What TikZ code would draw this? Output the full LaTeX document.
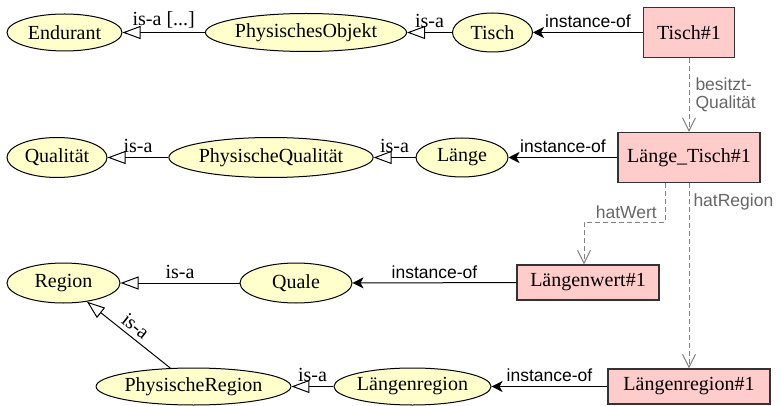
\documentclass[tikz,border=0pt]{standalone}
\usepackage{fontspec}
\setmainfont{Liberation Serif}
\newfontfamily\lblfont{Liberation Sans}
\usetikzlibrary{arrows.meta, shapes.geometric}
\definecolor{clsfill}{HTML}{FFFFCC}
\definecolor{indfill}{HTML}{FFCCCC}
\definecolor{relgray}{HTML}{808080}
\definecolor{rellblgray}{HTML}{666666}
\tikzset{
  cls/.style={ellipse, draw, line width=1pt, fill=clsfill, inner sep=0pt, font=\fontsize{20}{22}\selectfont},
  ind/.style={rectangle, draw, line width=1.2pt, draw=black!80, fill=indfill, inner sep=0pt, font=\fontsize{20}{22}\selectfont},
  isa/.style={draw, line width=1pt, -{Triangle[open, length=18pt, width=13pt]}},
  inst/.style={draw, line width=1pt, -{Stealth[length=11pt, width=11pt, inset=3pt]}},
  rel/.style={draw=relgray, line width=1pt, dash pattern=on 5pt off 3pt, -{Straight Barb[length=13pt, width=13pt]}},
  isalbl/.style={font=\fontsize{20}{22}\selectfont, inner sep=1pt},
  instlbl/.style={font=\lblfont\fontsize{17.5}{19}\selectfont, inner sep=1pt},
  rellbl/.style={font=\lblfont\fontsize{17.5}{18}\selectfont, text=rellblgray, inner sep=2pt}
}
\begin{document}
\begin{tikzpicture}[x=1pt, y=-1pt]
\useasboundingbox (0,0) rectangle (781,406);

% Row 1: Endurant / PhysischesObjekt / Tisch
\node[cls, minimum width=115, minimum height=37] (endurant) at (64.5,32.5) {Endurant};
\node[cls, minimum width=186, minimum height=38] (physobj) at (306,32.5) {PhysischesObjekt};
\node[cls, minimum width=80, minimum height=39] (tisch) at (492.5,32.5) {Tisch};
\node[ind, minimum width=91, minimum height=50] (tisch1) at (689,32.5) {Tisch\#1};

% Row 2: Qualität / PhysischeQualität / Länge
\node[cls, minimum width=100, minimum height=40] (qual) at (57,157.5) {Qualität};
\node[cls, minimum width=192, minimum height=40] (physqual) at (271,157.5) {PhysischeQualität};
\node[cls, minimum width=92, minimum height=39] (laenge) at (462,157.5) {Länge};
\node[ind, minimum width=142, minimum height=50] (laengetisch) at (689,157.5) {Länge\_Tisch\#1};

% Row 3: Region / Quale
\node[cls, minimum width=113, minimum height=40] (region) at (63.5,283) {Region};
\node[cls, minimum width=112, minimum height=40] (quale) at (296,283) {Quale};
\node[ind, minimum width=142, minimum height=35] (lwert) at (588,282.5) {Längenwert\#1};

% Row 4: PhysischeRegion / Längenregion
\node[cls, minimum width=165, minimum height=37] (physreg) at (193.5,386.5) {PhysischeRegion};
\node[cls, minimum width=151, minimum height=37] (lregion) at (412.5,386.5) {Längenregion};
\node[ind, minimum width=162, minimum height=35] (lregion1) at (689,386.5) {Längenregion\#1};

% is-a edges
\draw[isa] (physobj) -- node[isalbl, above=3pt] {is-a [...]} (endurant);
\draw[isa] (tisch) -- node[isalbl, above=3pt] {is-a} (physobj);
\draw[isa] (physqual) -- node[isalbl, above=3pt] {is-a} (qual);
\draw[isa] (laenge) -- node[isalbl, above=3pt] {is-a} (physqual);
\draw[isa] (quale) -- node[isalbl, above=3pt] {is-a} (region);
\draw[isa] (lregion) -- node[isalbl, above=3pt] {is-a} (physreg);
\draw[isa] (physreg) -- node[isalbl, sloped, above=3pt] {is-a} (region);

% instance-of edges
\draw[inst] (tisch1) -- node[instlbl, above=3pt] {instance-of} (tisch);
\draw[inst] (laengetisch) -- node[instlbl, above=3pt] {instance-of} (laenge);
\draw[inst] (lwert) -- node[instlbl, above=3pt] {instance-of} (quale);
\draw[inst] (lregion1) -- node[instlbl, above=3pt] {instance-of} (lregion);

% quality relations
\draw[rel] (tisch1) -- node[rellbl, right=4pt, align=left] {besitzt-\\Qualität} (laengetisch);
\draw[rel] ([xshift=-24]laengetisch.south) -- ++(0,39) coordinate (hwcorner)
  -| ([xshift=-4]lwert.north);
\node[rellbl, anchor=south east, xshift=-6, yshift=1] at (hwcorner) {hatWert};
\draw[rel] (laengetisch) -- node[rellbl, pos=0.1, anchor=west, xshift=2] {hatRegion} (lregion1);
\end{tikzpicture}
\end{document}
